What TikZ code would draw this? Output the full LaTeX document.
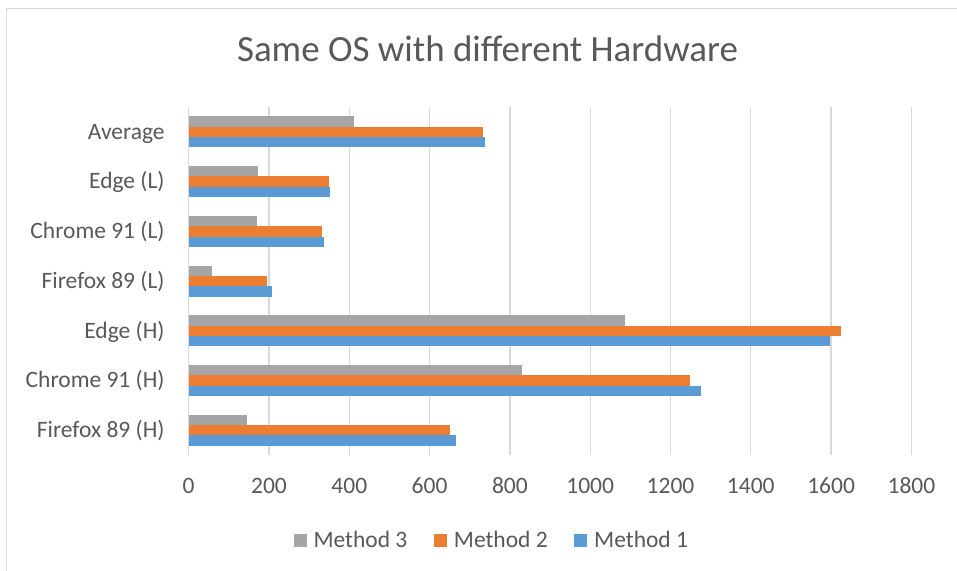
\documentclass[tikz,border=0pt]{standalone}
\usepackage{fontspec}
\setmainfont{Carlito}
\usepackage{tikz}
\usetikzlibrary{positioning}
\definecolor{txtgray}{HTML}{595959}
\definecolor{gridgray}{HTML}{D9D9D9}
\definecolor{mone}{HTML}{5B9BD5}
\definecolor{mtwo}{HTML}{ED7D31}
\definecolor{mthree}{HTML}{A5A5A5}

\begin{document}
\begin{tikzpicture}[x=0.5pt,y=-0.5pt,
  cat_label/.style={anchor=base east,inner sep=0pt,text=txtgray,font=\fontsize{11.75}{14}\selectfont},
  tick_label/.style={anchor=base,inner sep=0pt,text=txtgray,font=\fontsize{11.75}{14}\selectfont},
  leg_box/.style={anchor=north west,inner sep=0pt,minimum size=6.5pt},
  leg_text/.style={inner sep=0pt,text=txtgray,font=\fontsize{11.75}{14}\selectfont},
  grid_line/.style={draw=gridgray,line width=0.65pt}]

\useasboundingbox (0,0) rectangle (957,571);
\fill[white] (0,0) rectangle (957,571);
\draw[gridgray,line width=0.65pt] (957,8.7) -- (6.3,8.7) -- (6.3,571);

\node[anchor=base,inner sep=0pt,text=txtgray,font=\fontsize{18.5}{22}\selectfont] (title) at (487.5,61.7) {Same OS with different Hardware};

\begin{scope}[shift={(188.7,0)},xscale=0.4015]
% grid and axis labels
\foreach \v [count=\k] in {0,200,...,1800}{
  \draw[grid_line] (\v,107) -- (\v,455);
  \node[tick_label] (tick\k) at (\v,493.3) {\v};
}

% bars: method 1 / method 2 / method 3
\foreach \i/\name/\va/\vb/\vc in {0/Firefox 89 (H)/666/650/146, 1/Chrome 91 (H)/1276/1249/831, 2/Edge (H)/1598/1625/1087, 3/Firefox 89 (L)/207/196/58, 4/Chrome 91 (L)/337/331/170, 5/Edge (L)/352/350/172, 6/Average/739/734/411}{
  \pgfmathsetmacro\yc{455-49.7*(\i+0.5)}
  \fill[mthree] (0,\yc-15.5) rectangle (\vc,\yc-5.17);
  \fill[mtwo] (0,\yc-5.17) rectangle (\vb,\yc+5.17);
  \fill[mone] (0,\yc+5.17) rectangle (\va,\yc+15.5);
}
\end{scope}

\foreach \i/\name in {0/Firefox 89 (H), 1/Chrome 91 (H), 2/Edge (H), 3/Firefox 89 (L), 4/Chrome 91 (L), 5/Edge (L), 6/Average}{
  \pgfmathsetmacro\yc{455-49.7*(\i+0.5)}
  \node[cat_label] (cat\i) at (165,\yc+7.3) {\name};
}

% legend
\node[leg_box,fill=mthree] (sq3) at (293.3,533.5) {};
\node[leg_text,right=3pt of sq3.south east,anchor=base west] (lg3) {Method 3};
\node[leg_box,fill=mtwo] (sq2) at (433.7,533.5) {};
\node[leg_text,right=3pt of sq2.south east,anchor=base west] (lg2) {Method 2};
\node[leg_box,fill=mone] (sq1) at (574,533.5) {};
\node[leg_text,right=3pt of sq1.south east,anchor=base west] (lg1) {Method 1};

\end{tikzpicture}
\end{document}
